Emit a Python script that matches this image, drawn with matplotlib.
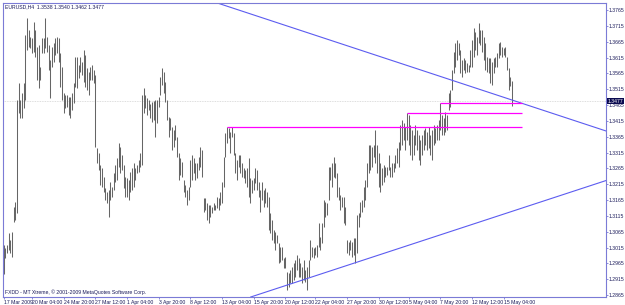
import numpy as np
import matplotlib.pyplot as plt

plt.rcParams['font.family'] = ['Liberation Sans Narrow', 'Liberation Sans', 'DejaVu Sans']

# EURUSD H4 bars (high / low), oldest first
highs = [
    1.3023, 1.3014, 1.3023, 1.3061, 1.3039, 1.3064, 1.3143, 1.3159, 1.3481, 1.3535,
    1.3481, 1.3503, 1.3535, 1.3687, 1.3740, 1.3702, 1.3680, 1.3677, 1.3728, 1.3702,
    1.3649, 1.3655, 1.3585, 1.3677, 1.3677, 1.3740, 1.3680, 1.3655, 1.3608, 1.3649,
    1.3661, 1.3677, 1.3680, 1.3677, 1.3630, 1.3585, 1.3503, 1.3497, 1.3497, 1.3491,
    1.3491, 1.3503, 1.3535, 1.3617, 1.3617, 1.3592, 1.3617, 1.3601, 1.3639, 1.3623,
    1.3582, 1.3570, 1.3585, 1.3592, 1.3576, 1.3560, 1.3330, 1.3314, 1.3276, 1.3266,
    1.3238, 1.3203, 1.3191, 1.3197, 1.3222, 1.3206, 1.3251, 1.3276, 1.3298, 1.3345,
    1.3333, 1.3308, 1.3276, 1.3238, 1.3235, 1.3229, 1.3254, 1.3266, 1.3282, 1.3266,
    1.3276, 1.3292, 1.3314, 1.3497, 1.3519, 1.3497, 1.3488, 1.3481, 1.3469, 1.3475,
    1.3478, 1.3481, 1.3481, 1.3491, 1.3554, 1.3582, 1.3570, 1.3538, 1.3481, 1.3428,
    1.3424, 1.3396, 1.3386, 1.3402, 1.3364, 1.3314, 1.3298, 1.3285, 1.3229, 1.3213,
    1.3197, 1.3206, 1.3292, 1.3308, 1.3298, 1.3282, 1.3282, 1.3301, 1.3333, 1.3323,
    1.3172, 1.3172, 1.3156, 1.3150, 1.3150, 1.3143, 1.3156, 1.3150, 1.3175, 1.3172,
    1.3191, 1.3222, 1.3301, 1.3377, 1.3396, 1.3393, 1.3380, 1.3396, 1.3377, 1.3314,
    1.3292, 1.3308, 1.3308, 1.3282, 1.3266, 1.3260, 1.3266, 1.3298, 1.3235, 1.3229,
    1.3235, 1.3266, 1.3260, 1.3222, 1.3197, 1.3222, 1.3197, 1.3203, 1.3191, 1.3175,
    1.3124, 1.3102, 1.3071, 1.3064, 1.3055, 1.3030, 1.3017, 1.3017, 1.2982, 1.2985,
    1.2938, 1.2935, 1.2944, 1.2954, 1.2966, 1.2976, 1.2992, 1.2982, 1.2966, 1.2954,
    1.2976, 1.2944, 1.2954, 1.2976, 1.3039, 1.3017, 1.3014, 1.3017, 1.3023, 1.3093,
    1.3049, 1.3093, 1.3165, 1.3159, 1.3156, 1.3270, 1.3270, 1.3282, 1.3301, 1.3282,
    1.3251, 1.3206, 1.3181, 1.3175, 1.3175, 1.3143, 1.3039, 1.3033, 1.3039, 1.3033,
    1.3045, 1.3045, 1.3118, 1.3124, 1.3159, 1.3165, 1.3206, 1.3229, 1.3282, 1.3339,
    1.3339, 1.3333, 1.3339, 1.3386, 1.3339, 1.3314, 1.3282, 1.3266, 1.3276, 1.3270,
    1.3270, 1.3308, 1.3270, 1.3282, 1.3282, 1.3308, 1.3330, 1.3349, 1.3402, 1.3418,
    1.3409, 1.3396, 1.3440, 1.3434, 1.3402, 1.3386, 1.3371, 1.3402, 1.3386, 1.3371,
    1.3355, 1.3371, 1.3386, 1.3393, 1.3380, 1.3396, 1.3371, 1.3386, 1.3402, 1.3393,
    1.3402, 1.3418, 1.3472, 1.3434, 1.3424, 1.3443, 1.3434, 1.3503, 1.3513, 1.3576,
    1.3633, 1.3661, 1.3671, 1.3661, 1.3639, 1.3608, 1.3614, 1.3608, 1.3598, 1.3592,
    1.3639, 1.3671, 1.3709, 1.3696, 1.3680, 1.3724, 1.3702, 1.3702, 1.3680, 1.3661,
    1.3617, 1.3614, 1.3614, 1.3601, 1.3614, 1.3617, 1.3630, 1.3661, 1.3664, 1.3649,
    1.3645, 1.3649, 1.3617, 1.3582, 1.3554, 1.3540,
]
lows = [
    1.2932, 1.2982, 1.2998, 1.3007, 1.2998, 1.2985, 1.3096, 1.3102, 1.3124, 1.3440,
    1.3424, 1.3424, 1.3456, 1.3481, 1.3639, 1.3649, 1.3645, 1.3630, 1.3633, 1.3617,
    1.3544, 1.3519, 1.3544, 1.3630, 1.3630, 1.3645, 1.3633, 1.3576, 1.3488, 1.3585,
    1.3601, 1.3623, 1.3630, 1.3601, 1.3522, 1.3481, 1.3440, 1.3456, 1.3459, 1.3434,
    1.3424, 1.3450, 1.3472, 1.3522, 1.3519, 1.3551, 1.3570, 1.3560, 1.3538, 1.3522,
    1.3513, 1.3497, 1.3544, 1.3544, 1.3535, 1.3333, 1.3282, 1.3260, 1.3213, 1.3206,
    1.3191, 1.3165, 1.3156, 1.3112, 1.3165, 1.3175, 1.3197, 1.3222, 1.3229, 1.3270,
    1.3251, 1.3260, 1.3203, 1.3175, 1.3175, 1.3165, 1.3191, 1.3197, 1.3206, 1.3229,
    1.3251, 1.3254, 1.3270, 1.3276, 1.3440, 1.3456, 1.3434, 1.3450, 1.3424, 1.3412,
    1.3418, 1.3364, 1.3409, 1.3459, 1.3497, 1.3529, 1.3503, 1.3475, 1.3418, 1.3364,
    1.3386, 1.3323, 1.3333, 1.3355, 1.3301, 1.3229, 1.3244, 1.3238, 1.3191, 1.3175,
    1.3150, 1.3165, 1.3206, 1.3229, 1.3251, 1.3229, 1.3235, 1.3260, 1.3270, 1.3238,
    1.3128, 1.3134, 1.3102, 1.3093, 1.3112, 1.3124, 1.3134, 1.3134, 1.3140, 1.3134,
    1.3150, 1.3156, 1.3206, 1.3301, 1.3345, 1.3361, 1.3314, 1.3364, 1.3308, 1.3251,
    1.3229, 1.3270, 1.3251, 1.3238, 1.3235, 1.3219, 1.3206, 1.3175, 1.3156, 1.3188,
    1.3197, 1.3219, 1.3197, 1.3175, 1.3128, 1.3165, 1.3143, 1.3156, 1.3143, 1.3071,
    1.3061, 1.3039, 1.3030, 1.3007, 1.3030, 1.2966, 1.2970, 1.2976, 1.2951, 1.2951,
    1.2881, 1.2891, 1.2903, 1.2903, 1.2913, 1.2922, 1.2944, 1.2922, 1.2922, 1.2903,
    1.2913, 1.2906, 1.2881, 1.2922, 1.2976, 1.2985, 1.2982, 1.2992, 1.2985, 1.3017,
    1.3007, 1.3030, 1.3080, 1.3112, 1.3118, 1.3165, 1.3229, 1.3206, 1.3238, 1.3235,
    1.3175, 1.3165, 1.3134, 1.3143, 1.3093, 1.3086, 1.2998, 1.2992, 1.3007, 1.2985,
    1.2992, 1.2966, 1.2998, 1.3080, 1.3112, 1.3128, 1.3143, 1.3165, 1.3206, 1.3251,
    1.3260, 1.3270, 1.3301, 1.3282, 1.3251, 1.3206, 1.3191, 1.3213, 1.3222, 1.3238,
    1.3244, 1.3260, 1.3238, 1.3238, 1.3254, 1.3266, 1.3282, 1.3270, 1.3323, 1.3339,
    1.3355, 1.3323, 1.3355, 1.3339, 1.3308, 1.3292, 1.3308, 1.3339, 1.3323, 1.3292,
    1.3276, 1.3308, 1.3323, 1.3339, 1.3323, 1.3330, 1.3308, 1.3292, 1.3339, 1.3345,
    1.3355, 1.3355, 1.3386, 1.3371, 1.3371, 1.3380, 1.3386, 1.3450, 1.3459, 1.3513,
    1.3566, 1.3585, 1.3608, 1.3623, 1.3566, 1.3554, 1.3576, 1.3566, 1.3570, 1.3570,
    1.3585, 1.3585, 1.3617, 1.3639, 1.3623, 1.3661, 1.3655, 1.3633, 1.3608, 1.3576,
    1.3570, 1.3566, 1.3535, 1.3529, 1.3566, 1.3585, 1.3585, 1.3614, 1.3623, 1.3617,
    1.3623, 1.3617, 1.3576, 1.3513, 1.3525, 1.3462,
]

title_text = "EURUSD,H4  1.3538 1.3540 1.3462 1.3477"
footer_text = "FXDD - MT Xtreme, \u00a9 2001-2009 MetaQuotes Software Corp."
last_price = 1.3477

# trend lines: two anchor points each (bar index, price)
upper_line = [(132, 1.3781), (305, 1.3481)]
lower_line = [(165, 1.2888), (238, 1.3014)]
# horizontal levels: (start bar, price)
levels = [(134, 1.3396), (242, 1.3440), (262, 1.3472)]
level_end = 311

tick_idx = [0, 17, 36, 55, 74, 93, 112, 131, 150, 169, 187, 206, 225, 243, 262, 281, 300]
tick_labels = ["17 Mar 2009", "20 Mar 04:00", "24 Mar 20:00", "27 Mar 12:00",
               "1 Apr 04:00", "3 Apr 20:00", "8 Apr 12:00", "13 Apr 04:00",
               "15 Apr 20:00", "20 Apr 12:00", "22 Apr 04:00", "27 Apr 20:00",
               "30 Apr 12:00", "5 May 04:00", "7 May 20:00", "12 May 12:00",
               "15 May 04:00"]
price_ticks = np.arange(1.2865, 1.3766, 0.005)

frame = "#7b7bd6"
text_c = "#1a1a5a"
fs = 3.7

fig = plt.figure(figsize=(6.25, 3.05), dpi=100)
ax = fig.add_axes([3 / 625, 8 / 305, 603 / 625, 294 / 305])

idx = np.arange(len(highs))
ax.vlines(idx, lows, highs, colors="#666666", linewidth=0.75)

ax.axhline(last_price, color="#d2d2d2", linestyle=(0, (1, 1)), linewidth=0.6, zorder=0)

for (x1, y1), (x2, y2) in [upper_line, lower_line]:
    ax.axline((x1, y1), (x2, y2), color="#5c5cf0", linewidth=0.8)

for start, price in levels:
    ax.hlines(price, start, level_end, colors="#ff00ff", linewidth=0.9)

ax.set_xlim(-0.3, 361.3)
ax.set_ylim(1.28591, 1.37875)

ax.yaxis.tick_right()
ax.set_yticks(price_ticks)
ax.set_yticklabels([f"{p:.4f}" for p in price_ticks])
ax.set_xticks(tick_idx)
ax.set_xticklabels(tick_labels, ha="left")
ax.tick_params(axis="both", labelsize=fs, colors=frame, labelcolor=text_c,
               length=1.5, width=0.6, pad=0.8)
ax.tick_params(axis="y", pad=0.6)
for s in ax.spines.values():
    s.set_color(frame)
    s.set_linewidth(0.8)

ax.text(0.003, 0.995, title_text, transform=ax.transAxes, fontsize=fs,
        color=text_c, va="top", ha="left")
ax.text(0.004, 0.008, footer_text, transform=ax.transAxes, fontsize=fs,
        color=text_c, va="bottom", ha="left")

ax.annotate(f"{last_price:.4f}", xy=(1.0, last_price), xycoords=("axes fraction", "data"),
            xytext=(1.2, 0), textcoords="offset points", fontsize=fs, color="white",
            va="center", ha="left",
            bbox=dict(boxstyle="square,pad=0.12", fc="#0a0a50", ec="none"))

fig.savefig("out.png", dpi=100, facecolor="white")
